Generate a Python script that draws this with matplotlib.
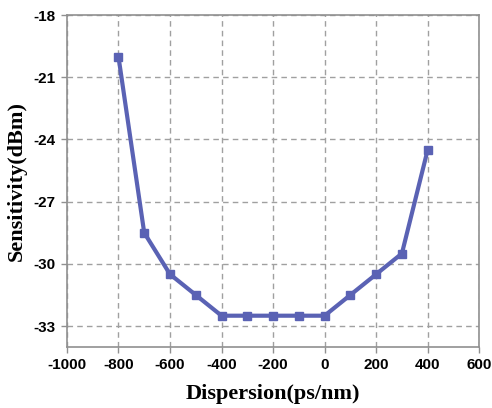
import numpy as np
import matplotlib.pyplot as plt

plt.rcParams['axes.unicode_minus'] = False

# Receiver sensitivity vs. accumulated dispersion
dispersion = [-800, -700, -600, -500, -400, -300, -200, -100, 0, 100, 200, 300, 400]
sensitivity = [-20, -28.5, -30.5, -31.5, -32.5, -32.5, -32.5, -32.5, -32.5,
               -31.5, -30.5, -29.5, -24.5]

x_ticks = np.arange(-1000, 601, 200)
y_ticks = [-33, -30, -27, -24, -21, -18]

fig = plt.figure(figsize=(4.92, 4.08), dpi=100)
ax = fig.add_axes([0.136, 0.150, 0.838, 0.813])

ax.plot(dispersion, sensitivity, color='#5a62b4', linewidth=3,
        marker='s', markersize=6, zorder=3)

ax.set_xlim(-1000, 600)
ax.set_ylim(-34, -18)
ax.set_xticks(x_ticks)
ax.set_yticks(y_ticks)

ax.grid(True, linestyle=(0, (4, 3)), color='#a0a0a0', linewidth=1)
for spine in ax.spines.values():
    spine.set_color('#909090')
    spine.set_linewidth(1.2)

ax.tick_params(length=4, width=1, color='#909090', pad=4)
for lbl in ax.get_xticklabels() + ax.get_yticklabels():
    lbl.set_fontfamily('Liberation Sans')
    lbl.set_fontweight('bold')
    lbl.set_fontsize(11)

ax.set_xlabel('Dispersion(ps/nm)', fontfamily='Liberation Serif',
              fontweight='bold', fontsize=16, labelpad=9)
ax.set_ylabel('Sensitivity(dBm)', fontfamily='Liberation Serif',
              fontweight='bold', fontsize=16, labelpad=5)

fig.savefig('out.png', dpi=100)
